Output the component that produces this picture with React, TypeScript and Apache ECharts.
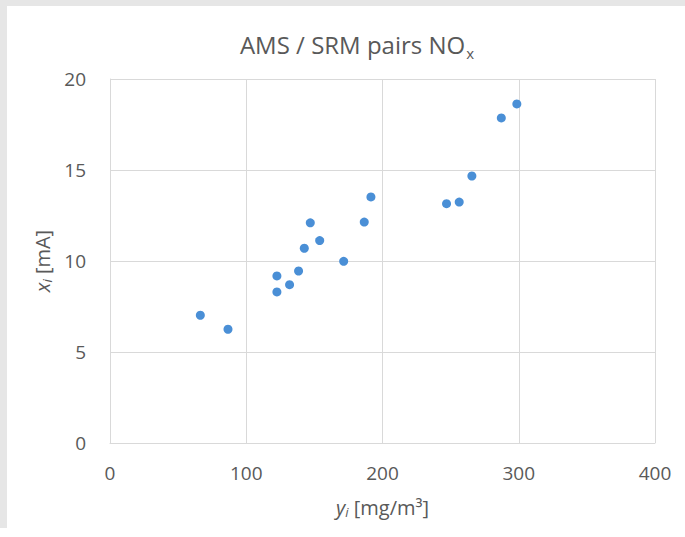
import React, { useEffect, useRef } from "react";
import * as echarts from "echarts";

const srmValues = [66.3, 86.6, 122.5, 122.5, 131.8, 138.4, 142.6, 147.0, 153.9, 171.5, 186.6, 191.5, 247.0, 256.3, 265.6, 287.2, 298.6];
const amsValues = [7.02, 6.25, 9.18, 8.30, 8.70, 9.45, 10.70, 12.10, 11.12, 9.98, 12.14, 13.52, 13.15, 13.24, 14.67, 17.86, 18.63];
const xTicks = [0, 100, 200, 300, 400];
const yTicks = [0, 5, 10, 15, 20];

const FONT = "'Open Sans', sans-serif";
const TEXT = "#595959";
const GRID = "#d9d9d9";

export default function App() {
  const ref = useRef<HTMLDivElement>(null);
  useEffect(() => {
    if (!ref.current) return;
    const chart = echarts.init(ref.current, null, { renderer: "svg" });
    const data = srmValues.map((v, i) => [v, amsValues[i]]);
    chart.setOption({
      animation: false,
      backgroundColor: "#ffffff",
      textStyle: { fontFamily: FONT },
      graphic: [
        { type: "rect", shape: { x: 0, y: 0, width: 685, height: 6 }, style: { fill: "#e6e6e6" }, silent: true },
        { type: "rect", shape: { x: 0, y: 0, width: 7, height: 528 }, style: { fill: "#e6e6e6" }, silent: true },
      ],
      title: {
        text: "AMS / SRM pairs NO{s|x}",
        left: 352,
        textAlign: "center",
        top: 24,
        textStyle: {
          fontFamily: FONT,
          fontSize: 24,
          fontWeight: "normal",
          color: TEXT,
          rich: {
            s: { fontFamily: FONT, fontSize: 15, color: TEXT, padding: [16, 0, 0, 1] },
          },
        },
      },
      grid: { left: 110, right: 30, top: 79, bottom: 94, containLabel: false },
      xAxis: {
        type: "value",
        min: xTicks[0],
        max: xTicks[xTicks.length - 1],
        interval: 100,
        name: "{i|y}{s|i} [mg/m³]",
        nameLocation: "middle",
        nameGap: 53,
        nameTextStyle: {
          fontFamily: FONT,
          fontSize: 20,
          color: TEXT,
          rich: {
            i: { fontFamily: FONT, fontSize: 20, fontStyle: "italic", color: TEXT },
            s: { fontFamily: FONT, fontSize: 13, fontStyle: "italic", color: TEXT, padding: [9, 0, 0, 0] },
          },
        },
        axisLine: { show: true, lineStyle: { color: GRID, width: 1 } },
        axisTick: { show: false },
        axisLabel: { fontFamily: FONT, fontSize: 19, color: TEXT, margin: 20 },
        splitLine: { show: true, lineStyle: { color: GRID, width: 1 } },
      },
      yAxis: {
        type: "value",
        min: yTicks[0],
        max: yTicks[yTicks.length - 1],
        interval: 5,
        name: "{i|x}{s|i} [mA]",
        nameLocation: "middle",
        nameGap: 54,
        nameTextStyle: {
          fontFamily: FONT,
          fontSize: 20,
          color: TEXT,
          rich: {
            i: { fontFamily: FONT, fontSize: 20, fontStyle: "italic", color: TEXT },
            s: { fontFamily: FONT, fontSize: 13, fontStyle: "italic", color: TEXT, padding: [9, 0, 0, 0] },
          },
        },
        axisLine: { show: true, lineStyle: { color: GRID, width: 1 } },
        axisTick: { show: false },
        axisLabel: { fontFamily: FONT, fontSize: 19, color: TEXT, margin: 24 },
        splitLine: { show: true, lineStyle: { color: GRID, width: 1 } },
      },
      series: [
        {
          type: "scatter",
          data,
          symbol: "circle",
          symbolSize: 9,
          itemStyle: { color: "#4a8fd6", opacity: 1 },
        },
      ],
    });
    return () => chart.dispose();
  }, []);
  return (
    <div
      ref={ref}
      style={{ position: "fixed", left: 0, top: 0, width: 685, height: 537 }}
    />
  );
}
